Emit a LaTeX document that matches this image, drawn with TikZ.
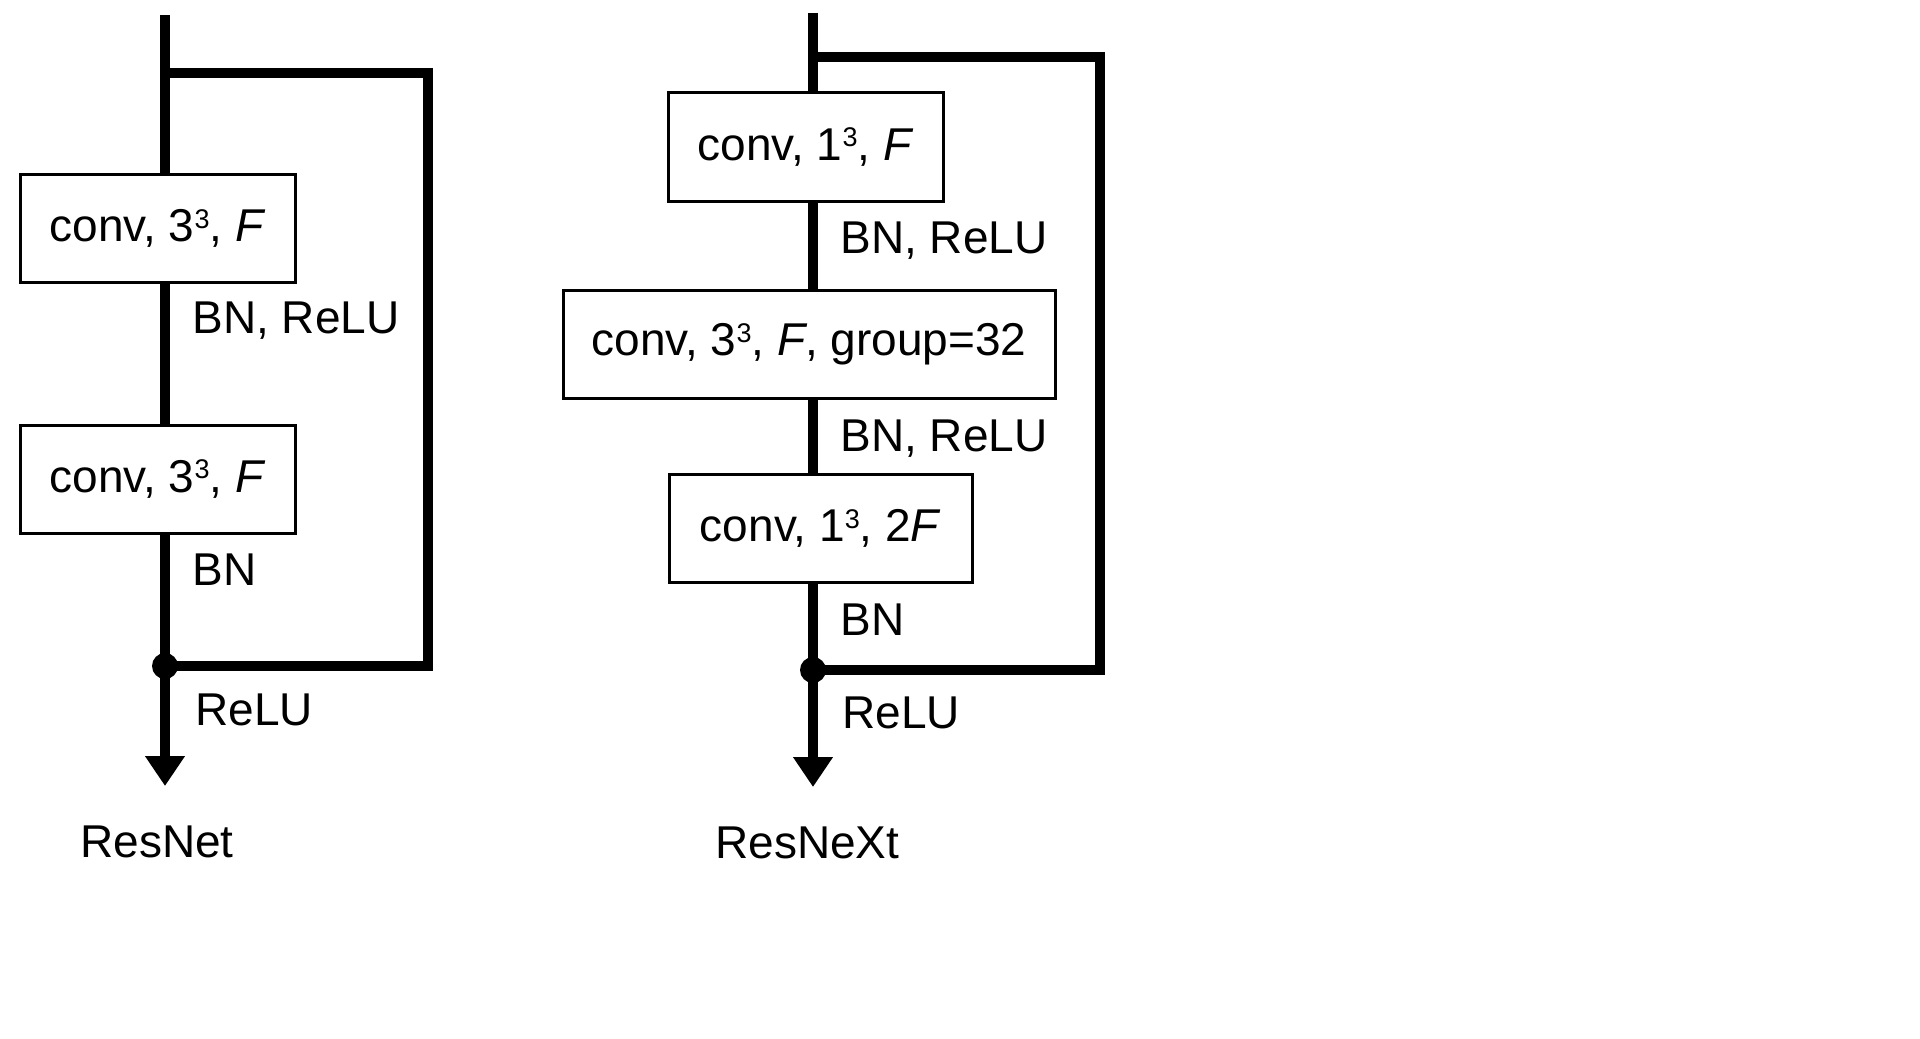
\documentclass[tikz,border=0pt]{standalone}
\usepackage{fontspec}
\setmainfont{Liberation Sans}
\usetikzlibrary{arrows.meta}
\newcommand{\supnum}[1]{\raisebox{6.6pt}{\fontsize{13.5}{13.5}\selectfont #1}}
\begin{document}
\begin{tikzpicture}[x=0.5pt,y=-0.5pt,
  txt/.style={font=\fontsize{23}{27}\selectfont},
  conv/.style={txt, draw, line width=1.5pt, minimum height=54pt, inner sep=0pt},
  lbl/.style={txt, anchor=base west, inner sep=0pt},
  flow/.style={line width=5pt, line join=miter},
  dotn/.style={circle, fill, inner sep=0pt, minimum size=13pt},
  outarrow/.style={flow, -{Triangle[width=19pt,length=15pt]}}]
\useasboundingbox (0,0) rectangle (1920,1038);

% ---------------- ResNet ----------------
\coordinate (Ltop) at (165,15);
\coordinate (Lsplit) at (165,73);
\coordinate (Lc1) at (428,73);
\coordinate (Lc2) at (428,666);
\coordinate (Ltip) at (165,786);
\node[conv, minimum width=137.5pt] (L1) at (157.5,228.5) {conv, 3\supnum{3}, \textit{F}};
\node[conv, minimum width=137.5pt] (L2) at (157.5,479) {conv, 3\supnum{3}, \textit{F}};
\node[dotn] (Ljoin) at (165,666) {};

\draw[flow] (Ltop) -- (Ltop |- L1.north);
\draw[flow] (Ltop |- L1.south) -- (Ltop |- L2.north);
\draw[flow] (Ltop |- L2.south) -- (Ljoin.center);
\draw[outarrow] (Ljoin.center) -- (Ltip);
\draw[flow] (Lsplit) -- (Lc1) -- (Lc2) -- (Ljoin.center);

\node[lbl] (Ll1) at (192,333) {BN, ReLU};
\node[lbl] (Ll2) at (192,585) {BN};
\node[lbl] (Ll3) at (195,725) {ReLU};
\node[lbl] (Lname) at (80,857) {ResNet};

% ---------------- ResNeXt ----------------
\coordinate (Rtop) at (813,13);
\coordinate (Rsplit) at (813,57);
\coordinate (Rc1) at (1100,57);
\coordinate (Rc2) at (1100,670);
\coordinate (Rtip) at (813,787);
\node[conv, minimum width=137.5pt] (R1) at (805.5,147) {conv, 1\supnum{3}, \textit{F}};
\node[conv, minimum width=246pt] (R2) at (809,344.5) {conv, 3\supnum{3}, \textit{F}, group=32};
\node[conv, minimum width=151.5pt] (R3) at (820.5,528.5) {conv, 1\supnum{3}, 2\textit{F}};
\node[dotn] (Rjoin) at (813,670) {};

\draw[flow] (Rtop) -- (Rtop |- R1.north);
\draw[flow] (Rtop |- R1.south) -- (Rtop |- R2.north);
\draw[flow] (Rtop |- R2.south) -- (Rtop |- R3.north);
\draw[flow] (Rtop |- R3.south) -- (Rjoin.center);
\draw[outarrow] (Rjoin.center) -- (Rtip);
\draw[flow] (Rsplit) -- (Rc1) -- (Rc2) -- (Rjoin.center);

\node[lbl] (Rl1) at (840,253) {BN, ReLU};
\node[lbl] (Rl2) at (840,451) {BN, ReLU};
\node[lbl] (Rl3) at (840,635) {BN};
\node[lbl] (Rl4) at (842,728) {ReLU};
\node[lbl] (Rname) at (715,858) {ResNeXt};
\end{tikzpicture}
\end{document}
